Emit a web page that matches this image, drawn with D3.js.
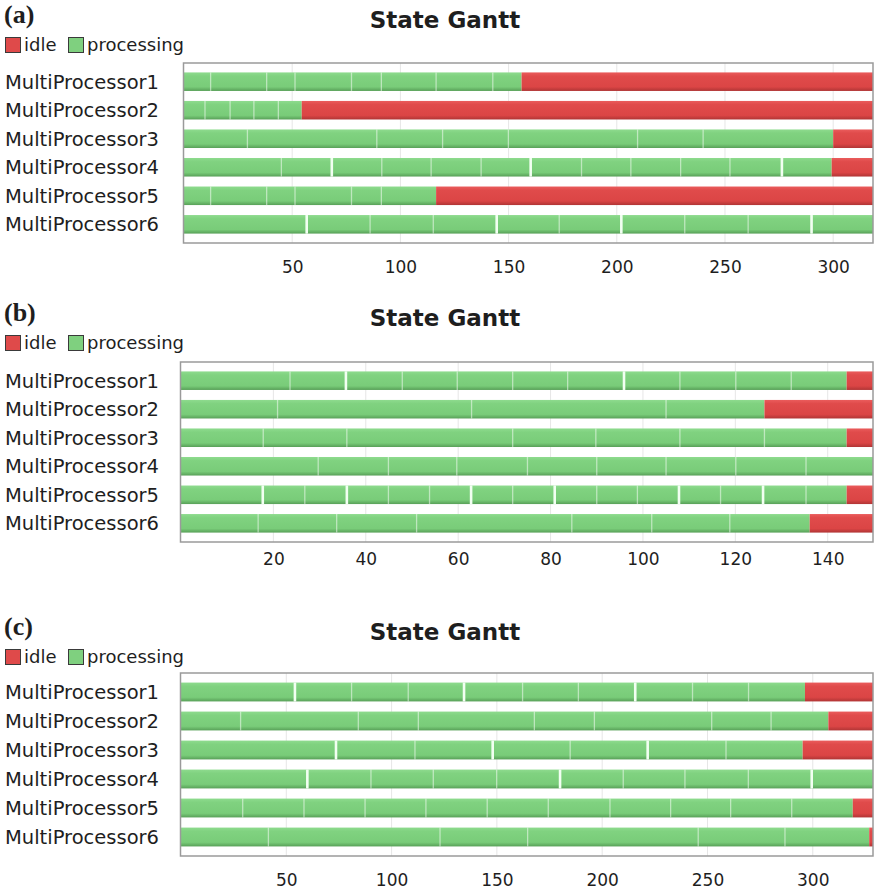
<!DOCTYPE html>
<html lang="en">
<head>
<meta charset="utf-8">
<title>State Gantt</title>
<script src="https://cdn.jsdelivr.net/npm/d3@7"></script>
<style>
  body { margin: 0; background: #fff; }
  text { font-family: "DejaVu Sans", Tahoma, sans-serif; fill: #1e1e1e; }
  .title { font-weight: bold; font-size: 23px; }
  .plabel { font-family: "Liberation Serif", "DejaVu Serif", serif; font-weight: bold; font-size: 26px; }
  .leg { font-size: 18px; }
  .proc { font-size: 19.5px; }
  .tick { font-size: 17px; }
</style>
</head>
<body>
<svg width="874" height="892"></svg>
<script>
// processors and legend
var procs = ["MultiProcessor1", "MultiProcessor2", "MultiProcessor3",
             "MultiProcessor4", "MultiProcessor5", "MultiProcessor6"];
var states = ["idle", "processing"];

// (a) end of time axis, ticks, idle start per processor (null = busy to the end)
var aEnd = 318.4;
var aTicks = [50, 100, 150, 200, 250, 300];
var aIdle = [156, 54.4, 300, 299.3, 116.5, null];
var aSplits = [
  [12.3, 38.2, 51.3, 77.4, 91.2, 116.5, 142.7],
  [9.7, 21.3, 32.3, 43.6],
  [29.3, 89.1, 119.5, 149.9, 209.6, 239.9],
  [45.0, 68.3, 91.4, 114.2, 137.3, 160.2, 183.7, 206.5, 229.5, 252.3, 276.3],
  [12.3, 38.2, 51.3, 77.4, 91.2],
  [56.7, 86.0, 115.2, 144.5, 173.4, 202.1, 231.4, 260.7, 290.0]
];
var aMajor = [[], [], [], [68.3, 160.2, 276.3], [], [56.7, 144.5, 202.1, 290.0]];

// (b)
var bEnd = 149.8;
var bTicks = [20, 40, 60, 80, 100, 120, 140];
var bIdle = [144.1, 126.3, 144.1, null, 144.1, 136.1];
var bSplits = [
  [23.6, 35.7, 47.9, 59.8, 71.8, 83.7, 95.9, 108.0, 120.1, 132.1],
  [20.9, 62.9, 105.0],
  [17.8, 35.9, 71.8, 89.8, 108.0, 126.3],
  [29.7, 44.9, 59.7, 75.0, 90.0, 105.0, 120.1, 135.3],
  [17.7, 26.8, 35.9, 44.9, 53.8, 62.8, 71.8, 80.9, 90.0, 98.8, 107.8, 116.8, 126.0, 135.3],
  [16.7, 33.7, 51.0, 84.6, 101.9, 118.8]
];
var bMajor = [[35.7, 95.9], [], [], [], [17.7, 35.9, 62.8, 80.9, 107.8, 126.0], []];

// (c)
var cEnd = 328.6;
var cTicks = [50, 100, 150, 200, 250, 300];
var cIdle = [296.3, 307.4, 295.2, null, 319.0, 326.8];
var cSplits = [
  [54.1, 81.0, 107.9, 134.4, 162.2, 188.7, 215.7, 242.9, 269.5],
  [28.3, 84.2, 112.7, 167.8, 196.3, 252.0, 280.2],
  [73.6, 111.1, 148.0, 184.8, 221.6, 258.8],
  [60.0, 90.2, 119.8, 149.9, 180.0, 210.0, 239.3, 269.4, 299.5],
  [29.3, 58.4, 87.4, 116.3, 145.4, 174.4, 203.7, 232.5, 261.0, 290.0],
  [41.5, 123.0, 164.6, 245.6, 286.8]
];
var cMajor = [[54.1, 134.4, 215.7], [], [73.6, 148.0, 221.6], [60.0, 180.0, 299.5], [], []];

var svg = d3.select("svg");

// bar shading
var defs = svg.append("defs");
function grad(id, c0, c1, c2, c3) {
  var lg = defs.append("linearGradient").attr("id", id)
    .attr("x1", 0).attr("y1", 0).attr("x2", 0).attr("y2", 1);
  lg.append("stop").attr("offset", 0).attr("stop-color", c0);
  lg.append("stop").attr("offset", 0.2).attr("stop-color", c1);
  lg.append("stop").attr("offset", 0.78).attr("stop-color", c2);
  lg.append("stop").attr("offset", 1).attr("stop-color", c3);
}
grad("gGreen", "#8edb8e", "#80d280", "#79cc79", "#58a058");
grad("gRed", "#ea5c5c", "#e04b4b", "#db4545", "#b03535");
var colors = { idle: "url(#gRed)", processing: "url(#gGreen)" };
var legendFill = { idle: "#df4a4a", processing: "#7fd07f" };

function panel(letter, top, left, plotTop, plotBottom, end, ticks, idle, splits, major, tickGap) {
  var g = svg.append("g");

  g.append("text").attr("class", "plabel")
    .attr("x", 4).attr("y", top + 23).text("(" + letter + ")");

  g.append("text").attr("class", "title")
    .attr("x", 445).attr("y", top + 28).attr("text-anchor", "middle")
    .text("State Gantt");

  // legend
  var lx = [5, 68];
  states.forEach(function(s, i) {
    g.append("rect").attr("x", lx[i] + 0.5).attr("y", top + 37.5)
      .attr("width", 15).attr("height", 15)
      .attr("fill", legendFill[s]).attr("stroke", "#3a3a3a").attr("stroke-width", 1);
    g.append("text").attr("class", "leg")
      .attr("x", lx[i] + 19).attr("y", top + 51).text(s);
  });

  var x = d3.scaleLinear().domain([0, end]).range([left, 873]);
  var y = d3.scaleBand().domain(procs).range([plotTop, plotBottom])
    .paddingInner(0.35).paddingOuter(0.33);

  // grid
  g.append("g").selectAll("line").data(ticks).enter().append("line")
    .attr("x1", function(d) { return x(d); }).attr("x2", function(d) { return x(d); })
    .attr("y1", plotTop).attr("y2", plotBottom)
    .attr("stroke", "#e6e6e6").attr("stroke-width", 1);

  // bars
  procs.forEach(function(p, i) {
    var busyEnd = idle[i] == null ? end : idle[i];
    var segs = [{ s: "processing", a: 0, b: busyEnd }];
    if (idle[i] != null) segs.push({ s: "idle", a: idle[i], b: end });
    var row = g.append("g");
    row.selectAll("rect").data(segs).enter().append("rect")
      .attr("x", function(d) { return x(d.a); })
      .attr("width", function(d) { return x(d.b) - x(d.a); })
      .attr("y", y(p)).attr("height", y.bandwidth())
      .attr("fill", function(d) { return colors[d.s]; });

    row.selectAll("line.minor").data(splits[i]).enter().append("line")
      .attr("class", "minor")
      .attr("x1", function(d) { return x(d); }).attr("x2", function(d) { return x(d); })
      .attr("y1", y(p)).attr("y2", y(p) + y.bandwidth())
      .attr("stroke", "rgba(255,255,255,0.5)").attr("stroke-width", 1.3);

    row.selectAll("line.major").data(major[i]).enter().append("line")
      .attr("class", "major")
      .attr("x1", function(d) { return x(d); }).attr("x2", function(d) { return x(d); })
      .attr("y1", y(p)).attr("y2", y(p) + y.bandwidth())
      .attr("stroke", "#f2fff2").attr("stroke-width", 2.6);

    g.append("text").attr("class", "proc")
      .attr("x", 5).attr("y", y(p) + y.bandwidth() / 2)
      .attr("dy", "0.36em").text(p);
  });

  // plot border
  g.append("rect").attr("x", left - 0.5).attr("y", plotTop)
    .attr("width", 873 - left + 0.5).attr("height", plotBottom - plotTop)
    .attr("fill", "none").attr("stroke", "#9a9a9a").attr("stroke-width", 1.5);

  // x axis
  var ax = g.append("g").attr("transform", "translate(0," + plotBottom + ")")
    .call(d3.axisBottom(x).tickValues(ticks).tickSize(0).tickPadding(tickGap));
  ax.select(".domain").remove();
  ax.selectAll("text").attr("class", "tick").attr("fill", "#1e1e1e")
    .style("font-family", "'DejaVu Sans', Tahoma, sans-serif").style("font-size", "17px");
}

panel("a", 0, 184, 63, 243, aEnd, aTicks, aIdle, aSplits, aMajor, 18);
panel("b", 298, 181, 362, 542, bEnd, bTicks, bIdle, bSplits, bMajor, 11);
panel("c", 612, 181, 673, 856, cEnd, cTicks, cIdle, cSplits, cMajor, 18);
</script>
</body>
</html>
